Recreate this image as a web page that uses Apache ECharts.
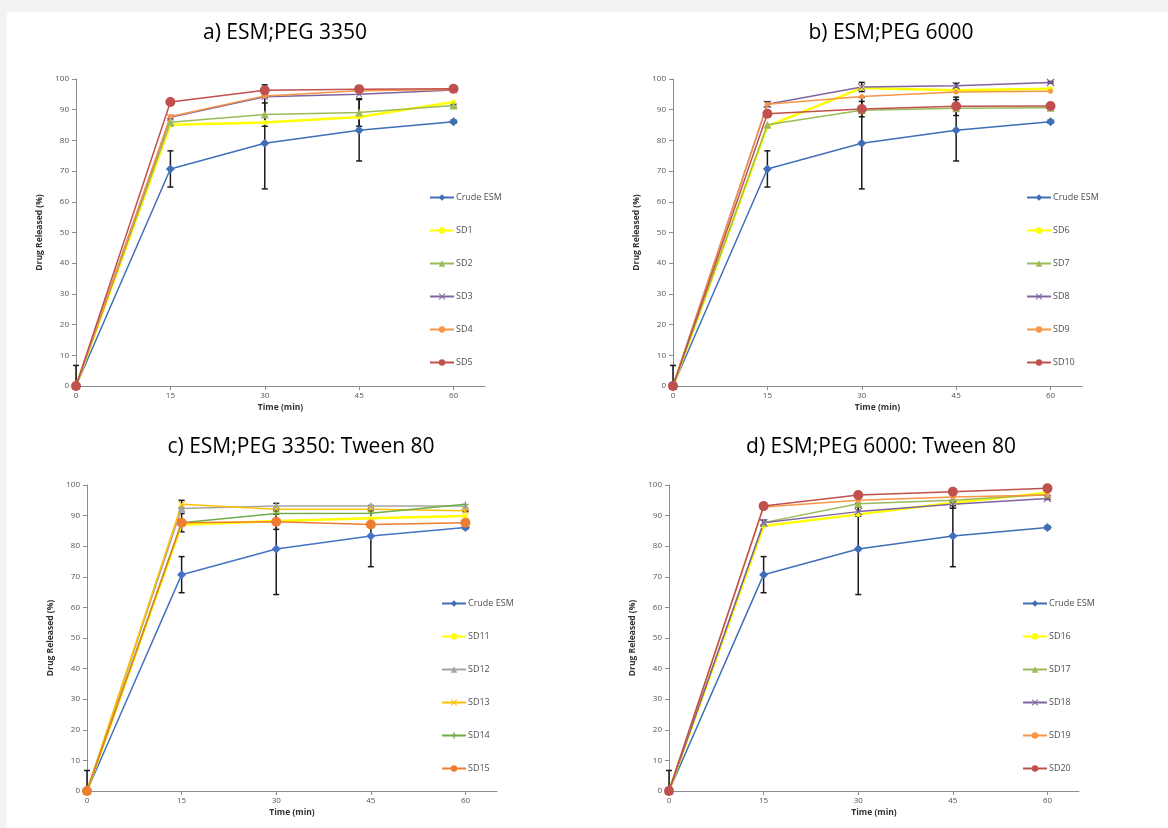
<!DOCTYPE html>
<html>
<head>
<meta charset="utf-8">
<script src="https://cdn.jsdelivr.net/npm/echarts@6/dist/echarts.min.js"></script>
<style>
html, body { margin: 0; padding: 0; background: #f3f3f3; }
#chart { width: 1168px; height: 828px; }
</style>
</head>
<body>
<div id="chart"></div>
<script>
// sampling times (min)
var times = [0, 15, 30, 45, 60];

// crude drug, same curve in every panel
var crudeESM = [0, 70.7, 79.1, 83.3, 86.1];
var crudeErr = [6.7, 5.9, 14.9, 10.0, 0.5];

// a) ESM;PEG 3350
var sd1 = [0, 85.1, 85.8, 87.6, 92.5];
var sd2 = [0, 85.9, 88.4, 89.1, 91.4];
var sd3 = [0, 87.5, 94.2, 95.0, 96.4];
var sd4 = [0, 87.8, 94.5, 96.2, 96.6];
var sd5 = [0, 92.5, 96.3, 96.7, 96.8];
var sd2Err = [0, 1.2, 3.8, 4.5, 0.4];
var sd5Err = [0, 0.5, 1.8, 0.5, 0.3];

// b) ESM;PEG 6000
var sd6 = [0, 84.6, 97.1, 96.3, 96.8];
var sd7 = [0, 85.1, 89.8, 90.5, 90.6];
var sd8 = [0, 91.8, 97.4, 97.8, 98.9];
var sd9 = [0, 91.8, 94.3, 95.8, 96.0];
var sd10 = [0, 88.7, 90.2, 91.1, 91.2];
var sd8Err = [0, 0.8, 1.5, 0.8, 0.3];
var sd10Err = [0, 1.0, 2.5, 3.0, 0.3];

// c) ESM;PEG 3350: Tween 80
var sd11 = [0, 87.0, 88.2, 89.1, 89.9];
var sd12 = [0, 92.3, 93.1, 93.1, 93.1];
var sd13 = [0, 93.7, 92.1, 92.1, 91.6];
var sd14 = [0, 87.7, 90.7, 90.8, 93.7];
var sd15 = [0, 87.7, 88.0, 87.1, 87.7];
var sd13Err = [0, 1.3, 0.6, 0.6, 0.3];
var sd15Err = [0, 3.0, 2.5, 0.5, 0.3];

// d) ESM;PEG 6000: Tween 80
var sd16 = [0, 86.6, 90.4, 94.2, 97.5];
var sd17 = [0, 87.7, 93.9, 95.0, 96.9];
var sd18 = [0, 87.7, 91.3, 93.7, 95.6];
var sd19 = [0, 92.8, 95.0, 96.1, 96.7];
var sd20 = [0, 93.1, 96.7, 97.8, 98.9];
var sd18Err = [0, 0.8, 1.5, 1.3, 0.3];
var sd20Err = [0, 1.0, 0.5, 0.5, 0.3];

var FONT = 'Open Sans';
var xSym = 'path://M0,1L1,0L5,4L9,0L10,1L6,5L10,9L9,10L5,6L1,10L0,9L4,5Z';
var plusSym = 'path://M4,0H6V4H10V6H6V10H4V6H0V4H4Z';

var panels = [
	{
		title: 'a) ESM;PEG 3350', titleX: 280, titleY: 18,
		grid: { left: 76, top: 79, width: 409, height: 307 },
		legendX: 424, legendY: 188,
		names: ['Crude ESM', 'SD1', 'SD2', 'SD3', 'SD4', 'SD5'],
		data: [crudeESM, sd1, sd2, sd3, sd4, sd5],
		errs: [crudeErr, null, sd2Err, null, null, sd5Err],
		colors: ['#3f6fb6', '#ffff00', '#9bbb59', '#8064a2', '#f79646', '#c0504d'],
		symbols: ['diamond', 'circle', 'triangle', xSym, 'circle', 'circle'],
		sizes: [9, 5, 8, 7, 5, 10]
	},
	{
		title: 'b) ESM;PEG 6000', titleX: 886, titleY: 18,
		grid: { left: 673, top: 79, width: 409, height: 307 },
		legendX: 1021, legendY: 188,
		names: ['Crude ESM', 'SD6', 'SD7', 'SD8', 'SD9', 'SD10'],
		data: [crudeESM, sd6, sd7, sd8, sd9, sd10],
		errs: [crudeErr, null, null, sd8Err, null, sd10Err],
		colors: ['#3f6fb6', '#ffff00', '#9bbb59', '#8064a2', '#f79646', '#c0504d'],
		symbols: ['diamond', 'circle', 'triangle', xSym, 'circle', 'circle'],
		sizes: [9, 5, 8, 8, 5, 10]
	},
	{
		title: 'c) ESM;PEG 3350: Tween 80', titleX: 296, titleY: 432,
		grid: { left: 87, top: 485, width: 410, height: 306 },
		legendX: 436, legendY: 594,
		names: ['Crude ESM', 'SD11', 'SD12', 'SD13', 'SD14', 'SD15'],
		data: [crudeESM, sd11, sd12, sd13, sd14, sd15],
		errs: [crudeErr, null, null, sd13Err, null, sd15Err],
		colors: ['#4472c4', '#ffff00', '#a5a5a5', '#ffc000', '#70ad47', '#ed7d31'],
		symbols: ['diamond', 'circle', 'triangle', xSym, plusSym, 'circle'],
		sizes: [9, 5, 8, 7, 6, 10]
	},
	{
		title: 'd) ESM;PEG 6000: Tween 80', titleX: 876, titleY: 432,
		grid: { left: 669, top: 485, width: 410, height: 306 },
		legendX: 1017, legendY: 594,
		names: ['Crude ESM', 'SD16', 'SD17', 'SD18', 'SD19', 'SD20'],
		data: [crudeESM, sd16, sd17, sd18, sd19, sd20],
		errs: [crudeErr, null, null, sd18Err, null, sd20Err],
		colors: ['#3f6fb6', '#ffff00', '#9bbb59', '#8064a2', '#f79646', '#c0504d'],
		symbols: ['diamond', 'circle', 'triangle', xSym, 'circle', 'circle'],
		sizes: [9, 5, 8, 8, 5, 10]
	}
];

// draws vertical error bars with caps
var errorBarRender = function(params, api) {
	var x = api.value(0);
	var lo = api.coord([x, api.value(1)]);
	var hi = api.coord([x, api.value(2)]);
	var st = { stroke: '#1a1a1a', lineWidth: 1.5 };
	return {
		type: 'group',
		children: [
			{ type: 'line', shape: { x1: lo[0], y1: lo[1], x2: hi[0], y2: hi[1] }, style: st },
			{ type: 'line', shape: { x1: hi[0] - 3, y1: hi[1], x2: hi[0] + 3, y2: hi[1] }, style: st },
			{ type: 'line', shape: { x1: lo[0] - 3, y1: lo[1], x2: lo[0] + 3, y2: lo[1] }, style: st }
		]
	};
};

var titles = [], grids = [], xAxes = [], yAxes = [], legends = [], series = [];

for (var p = 0; p < panels.length; p++) {
	var pn = panels[p];
	titles.push({
		text: pn.title,
		left: pn.titleX,
		top: pn.titleY,
		textAlign: 'center',
		textStyle: { fontFamily: FONT, fontSize: 21, fontWeight: 'normal', color: '#000' }
	});
	grids.push(pn.grid);
	xAxes.push({
		gridIndex: p,
		type: 'value',
		min: 0,
		max: 65,
		interval: 15,
		name: 'Time (min)',
		nameLocation: 'middle',
		nameGap: 17,
		nameTextStyle: { fontFamily: FONT, fontSize: 8.5, fontWeight: 'bold', color: '#333' },
		axisLine: { lineStyle: { color: '#8c8c8c', width: 1 } },
		axisTick: { show: true, length: 4, lineStyle: { color: '#8c8c8c' } },
		axisLabel: { showMaxLabel: false, fontFamily: FONT, fontSize: 8, color: '#555', margin: 6 },
		splitLine: { show: false }
	});
	yAxes.push({
		gridIndex: p,
		type: 'value',
		min: 0,
		max: 100,
		interval: 10,
		name: 'Drug Released (%)',
		nameLocation: 'middle',
		nameGap: 32,
		nameTextStyle: { fontFamily: FONT, fontSize: 8.5, fontWeight: 'bold', color: '#333' },
		axisLine: { show: true, lineStyle: { color: '#8c8c8c', width: 1 } },
		axisTick: { show: true, length: 4, lineStyle: { color: '#8c8c8c' } },
		axisLabel: { fontFamily: FONT, fontSize: 8, color: '#555', margin: 7 },
		splitLine: { show: false }
	});
	legends.push({
		orient: 'vertical',
		left: pn.legendX,
		top: pn.legendY,
		itemWidth: 24,
		itemHeight: 8,
		itemGap: 24,
		data: pn.names,
		textStyle: { fontFamily: FONT, fontSize: 9, color: '#505050', padding: [0, 0, 0, -3] }
	});

	// error bars first so markers sit on top
	for (var s = 0; s < pn.names.length; s++) {
		if (!pn.errs[s]) continue;
		var bars = [];
		for (var k = 0; k < times.length; k++) {
			var v = pn.data[s][k], e = pn.errs[s][k];
			bars.push([times[k], Math.max(0, v - e), v + e]);
		}
		series.push({
			type: 'custom',
			xAxisIndex: p,
			yAxisIndex: p,
			renderItem: errorBarRender,
			encode: { x: 0, y: [1, 2] },
			data: bars,
			silent: true,
			z: 1
		});
	}
	for (var s2 = 0; s2 < pn.names.length; s2++) {
		var pts = [];
		for (var k2 = 0; k2 < times.length; k2++) {
			pts.push([times[k2], pn.data[s2][k2]]);
		}
		series.push({
			name: pn.names[s2],
			type: 'line',
			xAxisIndex: p,
			yAxisIndex: p,
			data: pts,
			symbol: pn.symbols[s2],
			symbolSize: pn.sizes[s2],
			showSymbol: true,
			lineStyle: { color: pn.colors[s2], width: pn.colors[s2] === '#ffff00' ? 2.5 : 1.5 },
			itemStyle: { color: pn.colors[s2] },
			z: 2
		});
	}
}

var chart = echarts.init(document.getElementById('chart'));
chart.setOption({
	animation: false,
	backgroundColor: '#f3f3f3',
	graphic: [{
		type: 'rect',
		shape: { x: 7, y: 12, width: 1161, height: 816 },
		style: { fill: '#ffffff' },
		z: -10,
		silent: true
	}],
	title: titles,
	grid: grids,
	xAxis: xAxes,
	yAxis: yAxes,
	legend: legends,
	series: series
});
</script>
</body>
</html>
